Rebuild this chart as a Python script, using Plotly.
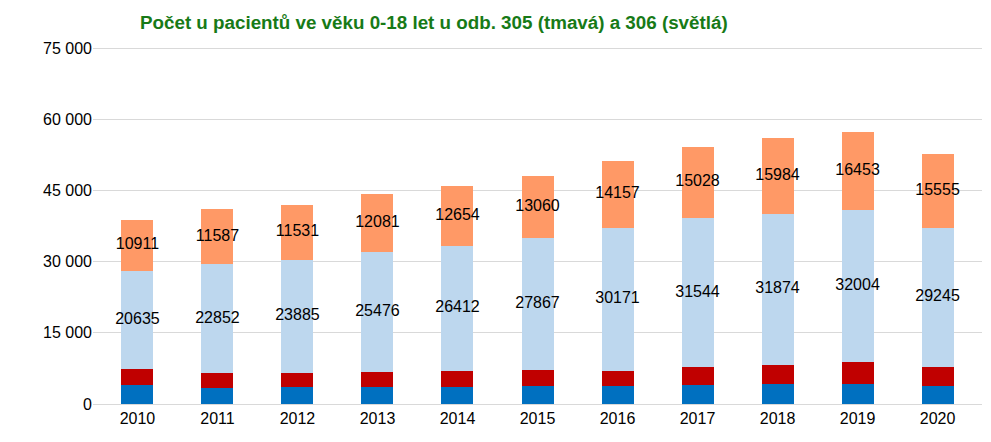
import plotly.graph_objects as go

years = ["2010", "2011", "2012", "2013", "2014", "2015", "2016", "2017", "2018", "2019", "2020"]
dark_blue = [4000, 3370, 3580, 3580, 3650, 3790, 3720, 3930, 4150, 4280, 3720]
dark_red = [3370, 3230, 2950, 3090, 3370, 3310, 3300, 3800, 4130, 4570, 4140]
light_blue = [20635, 22852, 23885, 25476, 26412, 27867, 30171, 31544, 31874, 32004, 29245]
light_orange = [10911, 11587, 11531, 12081, 12654, 13060, 14157, 15028, 15984, 16453, 15555]

title_text = "Počet u pacientů ve věku 0-18 let u odb. 305 (tmavá) a 306 (světlá)"
y_ticks = [0, 15000, 30000, 45000, 60000, 75000]

colors = ["#0070C0", "#C00000", "#BDD7EE", "#FF9966"]
series = [dark_blue, dark_red, light_blue, light_orange]

fig = go.Figure()
for vals, col in zip(series, colors):
    fig.add_trace(go.Bar(x=years, y=vals, marker=dict(color=col, line=dict(width=0)),
                         width=0.4, hoverinfo="skip", showlegend=False))

base_lb = [a + b for a, b in zip(dark_blue, dark_red)]
mid_lb = [b + v / 2 for b, v in zip(base_lb, light_blue)]
mid_or = [b + lb + v / 2 for b, lb, v in zip(base_lb, light_blue, light_orange)]

fig.add_trace(go.Scatter(x=years, y=mid_lb, mode="text", text=[str(v) for v in light_blue],
                         textfont=dict(family="Liberation Sans", size=16, color="#000000"),
                         showlegend=False, hoverinfo="skip", cliponaxis=False))
fig.add_trace(go.Scatter(x=years, y=mid_or, mode="text", text=[str(v) for v in light_orange],
                         textfont=dict(family="Liberation Sans", size=16, color="#000000"),
                         showlegend=False, hoverinfo="skip", cliponaxis=False))

fig.update_layout(
    width=991, height=442,
    barmode="stack",
    plot_bgcolor="white", paper_bgcolor="white",
    margin=dict(l=85, r=17, t=39, b=46),
    separators=", ",
    font=dict(family="Liberation Sans", size=16, color="#000000"),
    title=dict(text="<b>" + title_text + "</b>", x=132 / 991, xanchor="left",
               y=1 - 14 / 442, yanchor="middle",
               font=dict(family="Liberation Sans", size=18.8, color="#177A17")),
)
fig.update_yaxes(range=[0, 75300], tickvals=y_ticks, tickformat=",d",
                 showgrid=True, gridcolor="#D9D9D9", gridwidth=1,
                 zeroline=False, showline=False, ticks="",
                 tickfont=dict(family="Liberation Sans", size=16, color="#000000"))
fig.update_xaxes(showline=True, linecolor="#D9D9D9", linewidth=1, ticks="",
                 tickfont=dict(family="Liberation Sans", size=16, color="#000000"))

fig.write_html("out.html")
